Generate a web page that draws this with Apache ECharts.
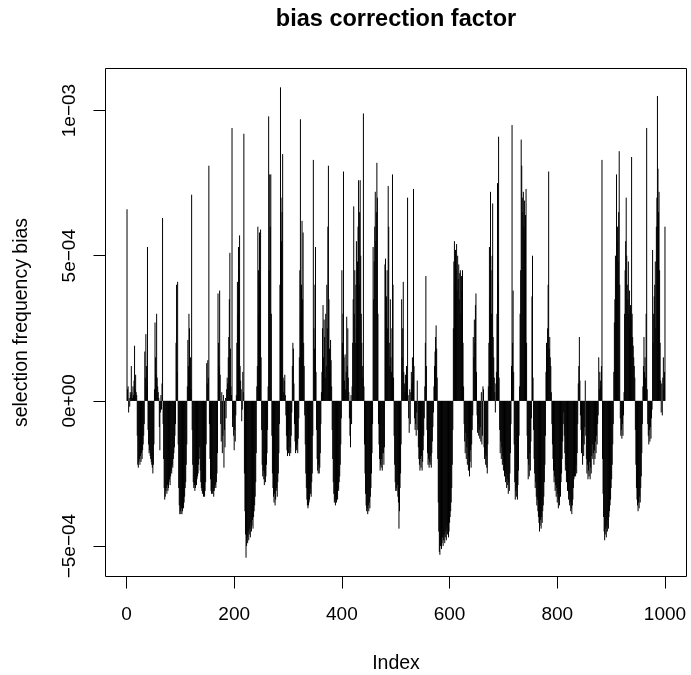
<!DOCTYPE html>
<html><head><meta charset="utf-8">
<script src="https://cdn.jsdelivr.net/npm/echarts@6/dist/echarts.min.js"></script>
<style>html,body{margin:0;padding:0;background:#fff}#c{width:691px;height:675px}</style>
</head><body><div id="c"></div>
<script>
// selection frequency bias, values in units of 1e-5, index 1..1000
const unit = 1e-5;
const bias001_100 = [
66,4,5,-4,1,-2,3,2,12,3,
1,5,2,7,19,4,9,3,2,-12,
-22,-23,-21,-20,-22,-19,-21,-18,-20,-17,
-15,-12,-8,17,8,23,12,5,53,-10,
-15,-18,-17,-19,-20,-21,-22,-23,-25,-22,
-15,4,27,15,9,30,8,5,3,1,
-9,-17,-4,2,-3,6,63,-8,-20,-30,
-34,-33,-31,-30,-32,-29,-31,-30,-28,-27,
-29,-26,-24,-25,-22,-23,-20,-18,-16,-12,
-8,20,40,10,41,-15,-30,-36,-39,-38];
const bias101_200 = [
-39,-37,-39,-38,-36,-37,-35,-33,-30,-28,
-22,-15,5,21,12,30,25,8,15,4,
71,-10,-22,-28,-30,-29,-31,-30,-28,-29,
-27,-26,-25,-22,-20,-16,-24,-28,-30,-31,
-32,-30,-33,-32,-33,-31,-28,-15,13,6,
14,8,81,-8,-20,-27,-31,-32,-30,-32,
-31,-33,-31,-30,-29,-30,-28,-25,-18,37,
20,12,38,9,-8,-14,3,-18,-12,2,
-23,-10,-16,1,-6,4,8,6,15,22,
35,51,18,5,2,94,-9,-6,-12,-17];
const bias201_300 = [
-10,-14,-5,2,20,41,30,53,45,57,
12,7,4,-7,-3,10,3,92,-25,-38,
-46,-54,-50,-47,-49,-45,-48,-46,-44,-47,
-42,-45,-43,-41,-44,-40,-38,-36,-33,-28,
-18,5,12,60,45,30,58,40,59,15,
-10,-22,-26,-24,-27,-29,-25,-28,-26,-22,
-18,-10,5,98,45,78,60,78,30,-12,
-25,-30,-33,-35,-32,-36,-34,-31,-30,-33,
-28,-25,-18,-8,40,108,70,55,65,85,
8,3,7,9,2,-5,-12,-17,-19,-14];
const bias301_400 = [
-18,-10,-19,-16,-18,-12,-4,12,20,18,
6,-8,-14,-18,-16,-17,-15,-18,-13,-6,
15,45,97,30,40,62,35,58,20,12,
-5,-15,-25,-30,-34,-36,-37,-36,-35,-34,
-30,-32,-33,-28,-25,-12,83,25,18,40,
53,10,-10,-20,-24,-25,-22,-25,-23,-18,
-8,3,10,25,33,15,28,22,8,30,
12,40,25,60,81,35,18,10,21,14,
5,-10,-20,-28,-32,-35,-34,-36,-33,-35,
-32,-34,-30,-31,-28,-26,-22,-15,-6,45];
const bias401_500 = [
20,30,79,15,7,16,4,10,29,12,
25,8,3,-6,-12,-16,2,-8,5,20,
35,67,30,45,20,40,55,25,48,60,
76,40,65,76,50,30,20,12,8,99,
5,-15,-25,-32,-36,-38,-37,-39,-36,-38,
-35,-37,-33,-30,-25,-18,-8,53,35,48,
60,72,55,65,82,70,30,-8,-15,-20,
-24,-22,-23,-20,-24,-18,-18,-22,-16,47,
49,30,36,45,25,74,60,20,12,35,
15,10,25,78,40,8,-12,-22,-28,-31];
const bias501_600 = [
-30,-31,-29,-33,-35,-44,-38,-30,-25,-15,
35,15,25,41,10,6,3,9,5,12,
8,70,2,-6,-11,4,-8,3,10,6,
15,8,73,12,-6,-10,-8,-12,-4,7,
-10,-16,-20,-22,-24,-20,-23,-19,-24,-21,
-17,-12,-6,5,20,43,12,-10,-18,-22,
-20,-23,-21,-22,-19,-23,-18,-14,-9,-4,
5,12,17,22,26,18,8,-20,-35,-45,
-52,-53,-50,-48,-51,-49,-47,-50,-48,-46,
-49,-47,-45,-48,-44,-46,-43,-47,-45,-42];
const bias601_700 = [
-40,-38,-35,-30,-22,-10,25,48,55,40,
52,45,54,38,50,42,47,35,44,45,
30,43,38,45,20,5,-8,-14,-18,-11,
-20,-16,-22,-13,-24,-19,-26,-21,-17,-23,
-15,-10,-5,22,15,28,20,33,37,10,
-5,-11,-8,-12,-10,-13,-9,-14,3,-15,
-12,5,4,-16,-20,-18,-22,-19,-23,-25,
-15,5,20,53,35,72,45,30,50,68,
22,15,8,3,-4,6,10,30,75,40,
91,8,-10,-18,-14,-20,-16,-22,-19,-24];
const bias701_800 = [
-21,-26,-23,-28,-25,-30,-27,-29,-32,-28,
-31,-25,-18,-8,12,95,20,38,10,-15,
-28,-34,-31,-33,-30,-34,-29,-24,-12,5,
30,45,90,81,70,65,72,60,69,55,
64,73,20,-12,-20,-27,-22,-26,-18,-24,
-14,-6,36,50,8,-10,-20,-25,-30,-28,
-33,-36,-34,-38,-40,-42,-45,-43,-41,-44,
-40,-42,-38,-36,-33,-28,-22,-12,10,20,
15,25,40,79,18,22,15,12,3,-8,
-15,-20,-24,-28,-26,-31,-29,-33,-30,-35];
const bias801_900 = [
-32,-37,-34,-36,-31,-33,-28,-25,-20,-14,
-8,-4,-12,-18,-24,-22,-28,-26,-31,-29,
-34,-32,-36,-35,-38,-37,-39,-36,-34,-30,
-27,-26,-24,-26,-22,-25,-18,-8,6,12,
22,7,-5,-10,-18,-14,-22,-12,-19,-15,
-9,7,-12,-20,-25,-22,-27,-24,-26,-21,
-27,-23,-25,-19,-15,-20,-18,-22,-17,-20,
-14,-18,-12,-15,-8,-5,15,4,10,7,
5,12,83,-20,-32,-40,-45,-48,-46,-44,
-47,-43,-45,-41,-44,-40,-38,-36,-34,-30];
const bias901_1000 = [
-27,-22,-15,-8,10,27,35,50,42,78,
55,60,48,65,86,40,-6,-12,-10,-13,
-8,-12,-5,3,30,45,55,70,50,40,
35,48,30,38,25,33,28,84,30,22,
19,15,12,8,-10,-22,-30,-34,-36,-38,
-35,-37,-33,-35,-30,-26,-18,-8,5,12,
22,10,15,8,30,94,4,-8,-12,-15,
-10,-14,-9,-13,-6,-3,52,20,30,36,
40,48,25,60,70,105,80,65,72,45,
20,7,-4,6,-5,8,15,4,10,60];

const xTicks = [0, 200, 400, 600, 800, 1000];
const xTickLabels = ['0', '200', '400', '600', '800', '1000'];
const yTicks = [-5e-4, 0, 5e-4, 1e-3];
const yTickLabels = ['\u22125e\u221204', '0e+00', '5e\u221204', '1e\u221203'];

const values = [].concat(bias001_100, bias101_200, bias201_300, bias301_400, bias401_500,
  bias501_600, bias601_700, bias701_800, bias801_900, bias901_1000).map(v => v * unit);
const data = values.map((v, i) => [i + 1, v]);
const n = values.length;
const xmin = 1 - 0.04 * (n - 1), xmax = n + 0.04 * (n - 1);
const vmin = Math.min(...values), vmax = Math.max(...values), vr = vmax - vmin;
const ymin = vmin - 0.04 * vr, ymax = vmax + 0.04 * vr;

function pick(ticks, labels, v) {
  const k = ticks.findIndex(t => Math.abs(t - v) < 1e-9 * Math.max(1, Math.abs(t)));
  return k >= 0 ? labels[k] : '';
}

const FONT = '"Liberation Sans", Arial, Helvetica, sans-serif';
const chart = echarts.init(document.getElementById('c'), null, {renderer: 'canvas'});
chart.setOption({
  animation: false,
  backgroundColor: '#ffffff',
  title: {
    text: 'bias correction factor', left: 396, top: 8, textAlign: 'center', padding: 0,
    textStyle: {fontFamily: FONT, fontWeight: 'bold', fontSize: 23.5, color: '#000'}
  },
  grid: {
    left: 105.5, right: 4.5, top: 68.5, bottom: 98.5,
    show: true, borderColor: '#000', borderWidth: 1, backgroundColor: 'transparent',
    containLabel: false, outerBoundsMode: 'none'
  },
  xAxis: {
    type: 'value', min: xmin, max: xmax,
    axisLine: {show: false, onZero: false},
    splitLine: {show: false},
    axisTick: {show: true, inside: false, length: 12, customValues: xTicks, lineStyle: {color: '#000', width: 1}},
    axisLabel: {
      customValues: xTicks, margin: 29, color: '#000', fontSize: 19, fontFamily: FONT,
      formatter: function (v) { return pick(xTicks, xTickLabels, v); }
    },
    name: 'Index', nameLocation: 'middle', nameGap: 77,
    nameTextStyle: {color: '#000', fontSize: 19.5, fontFamily: FONT}
  },
  yAxis: {
    type: 'value', min: ymin, max: ymax,
    axisLine: {show: false, onZero: false},
    splitLine: {show: false},
    axisTick: {show: true, inside: false, length: 12, customValues: yTicks, lineStyle: {color: '#000', width: 1}},
    axisLabel: {
      customValues: yTicks, rotate: 90, margin: 26, color: '#000', fontSize: 19, fontFamily: FONT,
      formatter: function (v) { return pick(yTicks, yTickLabels, v); }
    },
    name: 'selection frequency bias', nameLocation: 'middle', nameGap: 74, nameRotate: 90,
    nameTextStyle: {color: '#000', fontSize: 19.5, fontFamily: FONT}
  },
  series: [{
    type: 'custom',
    data: data,
    clip: true,
    renderItem: function (params, api) {
      const x = api.value(0), y = api.value(1);
      const p0 = api.coord([x, 0]);
      const p1 = api.coord([x, y]);
      return {
        type: 'line',
        shape: {x1: p0[0], y1: p0[1], x2: p1[0], y2: p1[1]},
        style: {stroke: '#000', lineWidth: 1}
      };
    }
  }]
});
</script>
</body></html>
